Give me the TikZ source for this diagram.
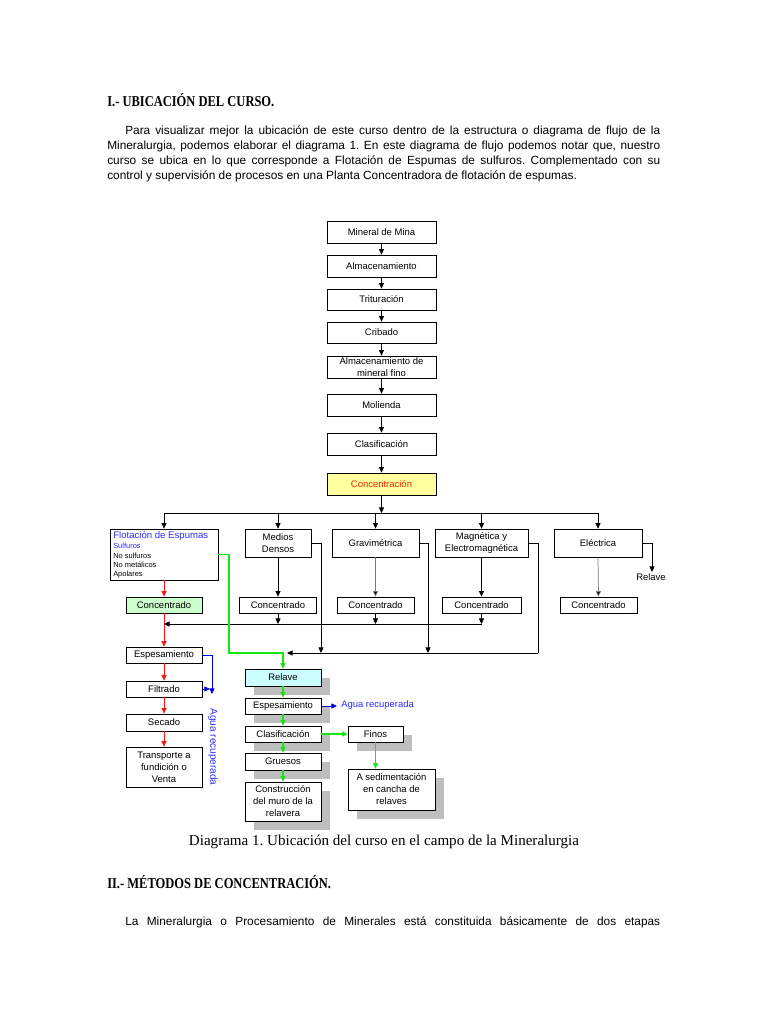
\documentclass[tikz,border=0pt]{standalone}
\usepackage{fontspec}
\usepackage{graphicx}
\usetikzlibrary{arrows.meta,shadows}
\newfontfamily\sansf{Liberation Sans}
\newfontfamily\seriff{Liberation Serif}
\definecolor{bluet}{RGB}{45,45,255}
\definecolor{bluel}{RGB}{0,0,220}
\definecolor{redl}{RGB}{255,20,20}
\definecolor{redt}{RGB}{235,40,0}
\definecolor{greenl}{RGB}{20,230,20}
\definecolor{yellowc}{RGB}{255,255,160}
\definecolor{greenc}{RGB}{204,255,204}
\definecolor{cyanc}{RGB}{204,255,255}
\definecolor{shadowc}{RGB}{190,190,190}
\definecolor{grayl}{RGB}{120,120,120}
\newcommand\mybox[7][]{\node[box,#1,minimum width={(#5-#3)*0.75pt},minimum height={(#6-#4)*0.75pt}] (#2) at ({(#3+#5)/2},{(#4+#6)/2}) {#7};}
\frenchspacing
\begin{document}
\begin{tikzpicture}[x=0.75pt,y=-0.75pt,
  box/.style={draw=black,line width=0.55pt,fill=white,inner sep=0pt,align=center,font=\sansf\fontsize{7.1}{9}\selectfont},
  shad/.style={drop shadow={shadow xshift=6.75pt,shadow yshift=-6.75pt,opacity=1,fill=shadowc}},
  arr/.style={draw=black,line width=0.55pt,-{Triangle[length=4.2pt,width=3.8pt]}},
  garr/.style={arr,draw=grayl,-{Triangle[length=4.2pt,width=3.8pt,fill=black]}},
  rarr/.style={arr,draw=redl,-{Triangle[length=4.2pt,width=3.8pt,fill=redl]}},
  barr/.style={arr,draw=bluel,-{Triangle[length=4.2pt,width=3.8pt,fill=bluel]}},
  gnarr/.style={arr,line width=0.85pt,draw=greenl,-{Triangle[length=4.2pt,width=3.8pt,fill=greenl]}},
  body/.style={inner sep=0pt,anchor=west,font=\sansf\fontsize{8.9}{10}\selectfont},
  head/.style={inner sep=0pt,anchor=west,font=\seriff\bfseries\fontsize{11.3}{13}\selectfont},
  small/.style={inner sep=0pt,anchor=west,font=\sansf\fontsize{5.6}{6.5}\selectfont}
]
\fill[white] (0,0) rectangle (768,1024);
\useasboundingbox (0,0) rectangle (768,1024);

% ---------- text ----------
\node[head] (h1) at (107,100) {\scalebox{0.83}[1]{I.- UBICACIÓN DEL CURSO.}};
\node[body] (p1) at (125,131) {\makebox[401.25pt][s]{Para visualizar mejor la ubicación de este curso dentro de la estructura o diagrama de flujo de la}};
\node[body] (p2) at (107,146) {\makebox[414.75pt][s]{Mineralurgia, podemos elaborar el diagrama 1. En este diagrama de flujo podemos notar que, nuestro}};
\node[body] (p3) at (107,161) {\makebox[414.75pt][s]{curso se ubica en lo que corresponde a Flotación de Espumas de sulfuros. Complementado con su}};
\node[body] (p4) at (107,176) {control y supervisión de procesos en una Planta Concentradora de flotación de espumas.};

\node[inner sep=0pt,font=\seriff\fontsize{11.3}{13}\selectfont] (cap) at (384,842) {Diagrama 1. Ubicación del curso en el campo de la Mineralurgia};
\node[head] (h2) at (107,882) {\scalebox{0.83}[1]{II.- MÉTODOS DE CONCENTRACIÓN.}};
\node[body] (p5) at (125,922) {\makebox[401.25pt][s]{La Mineralurgia o Procesamiento de Minerales está constituida básicamente de dos etapas}};

% ---------- main chain ----------
\mybox{m1}{327}{221}{436}{243}{Mineral de Mina}
\mybox{m2}{327}{255}{436}{277}{Almacenamiento}
\mybox{m3}{327}{289}{436}{310}{Trituración}
\mybox{m4}{327}{322}{436}{343}{Cribado}
\mybox{m5}{327}{356}{436}{378}{Almacenamiento de\\mineral fino}
\mybox{m6}{327}{394}{436}{416}{Molienda}
\mybox{m7}{327}{433}{436}{455}{Clasificación}
\mybox[fill=yellowc,text=redt]{m8}{327}{473}{436}{495}{Concentración}
\draw[arr] (m1.south) -- (m2.north);
\draw[arr] (m2.south) -- (m3.north);
\draw[arr] (m3.south) -- (m4.north);
\draw[arr] (m4.south) -- (m5.north);
\draw[arr] (m5.south) -- (m6.north);
\draw[arr] (m6.south) -- (m7.north);
\draw[arr] (m7.south) -- (m8.north);

% ---------- methods ----------
\mybox{f}{110}{529}{218}{580}{}
\node[inner sep=0pt,anchor=west,font=\sansf\fontsize{7.2}{8}\selectfont,text=bluet] (ft1) at (113,536) {Flotación de Espumas};
\node[small,text=bluet] (ft2) at (113,546) {Sulfuros};
\node[small] (ft3) at (113,555.5) {No sulfuros};
\node[small] (ft4) at (113,565) {No metálicos};
\node[small] (ft5) at (113,575) {Apolares};
\mybox{d}{245}{529}{311}{557}{Medios\\Densos}
\mybox{g}{332}{529}{419}{557}{Gravimétrica}
\mybox{mg}{435}{529}{528}{557}{Magnética y\\Electromagnética}
\mybox{e}{554}{529}{642}{557}{Eléctrica}

\coordinate (busL) at (164,513);
\coordinate (busR) at (598,513);
\draw[arr] (m8.south) -- (m8.south |- busL);
\draw[line width=0.55pt] (busL) -- (busR);
\draw[arr] (busL) -- (f.north);
\draw[arr] (d.north |- busL) -- (d.north);
\draw[arr] (g.north |- busL) -- (g.north);
\draw[arr] (mg.north |- busL) -- (mg.north);
\draw[arr] (busR) -- (e.north);

% concentrados
\mybox[fill=greenc]{cf}{126}{597}{202}{613}{Concentrado}
\mybox{cd}{239.5}{597}{316.5}{613}{Concentrado}
\mybox{cg}{337}{597}{414}{613}{Concentrado}
\mybox{cm}{442}{597}{521}{613}{Concentrado}
\mybox{ce}{560}{597}{637}{613}{Concentrado}
\draw[rarr] (f.south) -- (cf.north);
\draw[arr] (d.south) -- (cd.north);
\draw[garr] (g.south) -- (cg.north);
\draw[arr] (mg.south) -- (cm.north);
\draw[garr] (e.south) -- (ce.north);

\coordinate (cl) at (164,624);
\draw[arr] (cd.south) -- (cd.south |- cl);
\draw[arr] (cg.south) -- (cg.south |- cl);
\draw[arr] (cm.south) -- (cm.south |- cl);
\draw[arr] (cm.south |- cl) -- (cl);

% relave from Electrica
\coordinate (er) at (652,572);
\draw[arr] (e.east) -- (e.east -| er) -- (er);
\node[inner sep=0pt,font=\sansf\fontsize{7.1}{8}\selectfont] (relt) at (651,577) {Relave};

% ---------- left column ----------
\mybox{le}{126}{647}{202}{663}{Espesamiento}
\mybox{lf}{126}{681}{202}{697}{Filtrado}
\mybox{ls}{126}{714}{202}{731}{Secado}
\mybox{lt}{126}{747}{202}{787}{Transporte a\\fundición o\\Venta}
\draw[rarr] (cf.south) -- (le.north);
\draw[rarr] (le.south) -- (lf.north);
\draw[rarr] (lf.south) -- (ls.north);
\draw[rarr] (ls.south) -- (lt.north);
\coordinate (bw) at (212,694);
\coordinate (bf) at (210,689);
\draw[barr] (le.east) -- (le.east -| bw) -- (bw);
\draw[barr] (lf.east) -- (bf);
\node[inner sep=0pt,rotate=-90,text=bluet,font=\sansf\fontsize{7.5}{8}\selectfont] (agl) at (213,747) {Agua recuperada};

% ---------- tailings column ----------
\mybox[fill=cyanc,shad]{rr}{245}{669}{321}{686}{Relave}
\mybox[shad]{re}{245}{698}{321}{714}{Espesamiento}
\mybox[shad]{rc}{245}{726}{321}{742}{Clasificación}
\mybox[shad]{rg}{245}{753}{321}{770}{Gruesos}
\mybox[shad]{rm}{245}{782}{321}{821}{Construcción\\del muro de la\\relavera}
\mybox[shad]{rf}{348}{726}{403}{742}{Finos}
\mybox[shad]{rs}{348}{769}{435}{810}{A sedimentación\\en cancha de\\relaves}

% green line from flotation
\coordinate (gv) at (229,653);
\draw[gnarr] (f.east) -- (f.east -| gv) -- (gv) -- (gv -| rr.north) -- (rr.north);
% black lines from method boxes
\coordinate (kd) at (321,653);
\coordinate (kg) at (428,653);
\coordinate (km) at (538,653);
\coordinate (kend) at (287,653);
\draw[arr] (d.east) -- (d.east -| kd) -- (kd);
\draw[arr] (g.east) -- (g.east -| kg) -- (kg);
\draw[line width=0.55pt] (mg.east) -- (mg.east -| km) -- (km);
\draw[arr] (km) -- (kend);

\draw[gnarr] (rr.south) -- (re.north);
\draw[gnarr] (re.south) -- (rc.north);
\draw[gnarr] (rc.south) -- (rg.north);
\draw[gnarr] (rg.south) -- (rm.north);
\draw[gnarr] (rc.east) -- (rf.west);
\draw[gnarr] (rf.south) -- (rf.south |- rs.north);
\coordinate (ba) at (337,706);
\draw[barr] (re.east) -- (ba);
\node[inner sep=0pt,anchor=west,text=bluet,font=\sansf\fontsize{7.1}{8}\selectfont] (agr) at (341,705) {Agua recuperada};
\end{tikzpicture}
\end{document}
